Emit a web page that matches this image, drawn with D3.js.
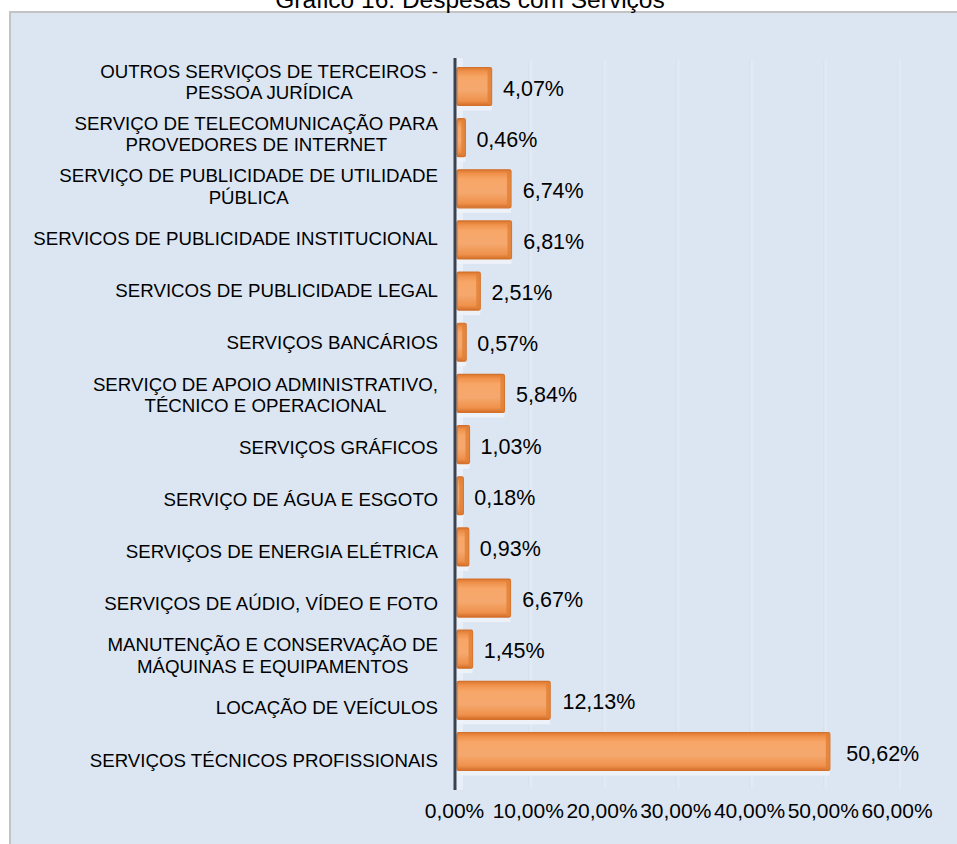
<!DOCTYPE html>
<html>
<head>
<meta charset="utf-8">
<script src="https://cdn.jsdelivr.net/npm/d3@7"></script>
<style>
  html, body { margin: 0; padding: 0; background: #ffffff; }
  svg { display: block; font-family: "Liberation Sans", Arial, sans-serif; }
</style>
</head>
<body>
<svg id="chart" width="957" height="844"></svg>
<script>
const title = "Gráfico 16: Despesas com Serviços";
const categories = [
  "OUTROS SERVIÇOS DE TERCEIROS -\nPESSOA JURÍDICA",
  "SERVIÇO DE TELECOMUNICAÇÃO PARA\nPROVEDORES DE INTERNET",
  "SERVIÇO DE PUBLICIDADE DE UTILIDADE\nPÚBLICA",
  "SERVICOS DE PUBLICIDADE INSTITUCIONAL",
  "SERVICOS DE PUBLICIDADE LEGAL",
  "SERVIÇOS BANCÁRIOS",
  "SERVIÇO DE APOIO ADMINISTRATIVO,\nTÉCNICO E OPERACIONAL",
  "SERVIÇOS GRÁFICOS",
  "SERVIÇO DE ÁGUA E ESGOTO",
  "SERVIÇOS DE ENERGIA ELÉTRICA",
  "SERVIÇOS DE AÚDIO, VÍDEO E FOTO",
  "MANUTENÇÃO E CONSERVAÇÃO DE\nMÁQUINAS E EQUIPAMENTOS",
  "LOCAÇÃO DE VEÍCULOS",
  "SERVIÇOS TÉCNICOS PROFISSIONAIS"
];
const values = [4.07, 0.46, 6.74, 6.81, 2.51, 0.57, 5.84, 1.03, 0.18, 0.93, 6.67, 1.45, 12.13, 50.62];
const tickValues = [0, 10, 20, 30, 40, 50, 60];

const fmt = v => v.toFixed(2).replace(".", ",") + "%";

const svg = d3.select("#chart");

// panel
svg.append("rect").attr("x", 10).attr("y", 12).attr("width", 960).attr("height", 850)
  .attr("fill", "#dce6f2").attr("stroke", "#c3c3c3").attr("stroke-width", 2);

// title (cut at top, as in the reference)
svg.append("text").attr("x", 470).attr("y", 8).attr("text-anchor", "middle")
  .attr("font-size", 24.5).attr("fill", "#000").text(title);

// scales
const x = d3.scaleLinear().domain([0, 60]).range([454, 896.5]);
const xBar = d3.scaleLinear().domain([0, 60]).range([462, 898]);
const yLabel = d3.scalePoint().domain(categories).range([82, 760]);
const yBar = d3.scalePoint().domain(categories).range([86.5, 751.5]);
const barH = 38;

// defs
const defs = svg.append("defs");
const g1 = defs.append("linearGradient").attr("id", "barGrad").attr("x1", 0).attr("y1", 0).attr("x2", 0).attr("y2", 1);
[[0, "#dc772e"], [0.1, "#f0914b"], [0.25, "#f7a667"], [0.6, "#f5a86e"], [0.88, "#ef914b"], [1, "#d26d28"]]
  .forEach(([o, c]) => g1.append("stop").attr("offset", o).attr("stop-color", c));
const g2 = defs.append("linearGradient").attr("id", "gridGrad").attr("x1", 0).attr("y1", 0).attr("x2", 1).attr("y2", 0);
[[0, "#d5dfeb"], [0.4, "#e2eaf4"], [1, "#dce6f2"]]
  .forEach(([o, c]) => g2.append("stop").attr("offset", o).attr("stop-color", c));

// gridlines
svg.append("g").selectAll("rect").data(tickValues.slice(1)).join("rect")
  .attr("x", d => x(d) + 0.5).attr("y", 60).attr("width", 5).attr("height", 728)
  .attr("fill", "url(#gridGrad)");

// light floor strip near axis
svg.append("rect").attr("x", 456).attr("y", 58).attr("width", 7).attr("height", 732)
  .attr("fill", "#e9f0f8").attr("opacity", 0.9);

// bar shadows
svg.append("g").selectAll("rect").data(values).join("rect")
  .attr("x", 458).attr("y", (d, i) => yBar(categories[i]) + barH / 2 - 1)
  .attr("width", d => Math.max(0, xBar(d) - 458)).attr("height", 6)
  .attr("fill", "#eef3fa").attr("opacity", 0.9);

// bars
svg.append("g").selectAll("rect").data(values).join("rect")
  .attr("x", 457).attr("y", (d, i) => yBar(categories[i]) - barH / 2)
  .attr("width", d => xBar(d) - 457).attr("height", barH)
  .attr("rx", 1.5)
  .attr("fill", "url(#barGrad)").attr("stroke", "#d3712d").attr("stroke-width", 1.2);

// right side face darker
svg.append("g").selectAll("rect").data(values).join("rect")
  .attr("x", d => xBar(d) - 4).attr("y", (d, i) => yBar(categories[i]) - barH / 2 + 1)
  .attr("width", 4).attr("height", barH - 2)
  .attr("fill", "#e07f36").attr("opacity", 0.8);

// axis line
svg.append("line").attr("x1", 455).attr("x2", 455).attr("y1", 58).attr("y2", 790)
  .attr("stroke", "#3a4250").attr("stroke-width", 3);

// value labels
svg.append("g").selectAll("text").data(values).join("text")
  .attr("x", d => x(d) + 19).attr("y", (d, i) => yBar(categories[i]) + 2)
  .attr("dominant-baseline", "central").attr("font-size", 21.5).attr("fill", "#000")
  .text(d => fmt(d));

// category labels
const catG = svg.append("g");
categories.forEach(c => {
  const lines = c.split("\n");
  const t = catG.append("text").attr("font-size", 18.7).attr("fill", "#000").attr("text-anchor", "middle");
  const lh = 21.5;
  const y0 = yLabel(c) - (lines.length - 1) * lh / 2;
  const spans = lines.map((l, i) => t.append("tspan").attr("y", y0 + i * lh).attr("dy", "0.35em").text(l));
  const maxW = d3.max(spans, s => s.node().getComputedTextLength());
  spans.forEach(s => s.attr("x", 438 - maxW / 2));
});

// x axis tick labels
const axisG = svg.append("g").attr("transform", "translate(0,818)")
  .call(d3.axisBottom(x).tickValues(tickValues).tickFormat(fmt).tickSize(0).tickPadding(0));
axisG.select(".domain").remove();
axisG.selectAll("text").attr("font-size", 21).attr("fill", "#000")
  .attr("font-family", "Liberation Sans, Arial, sans-serif").attr("dy", "0");
</script>
</body>
</html>
